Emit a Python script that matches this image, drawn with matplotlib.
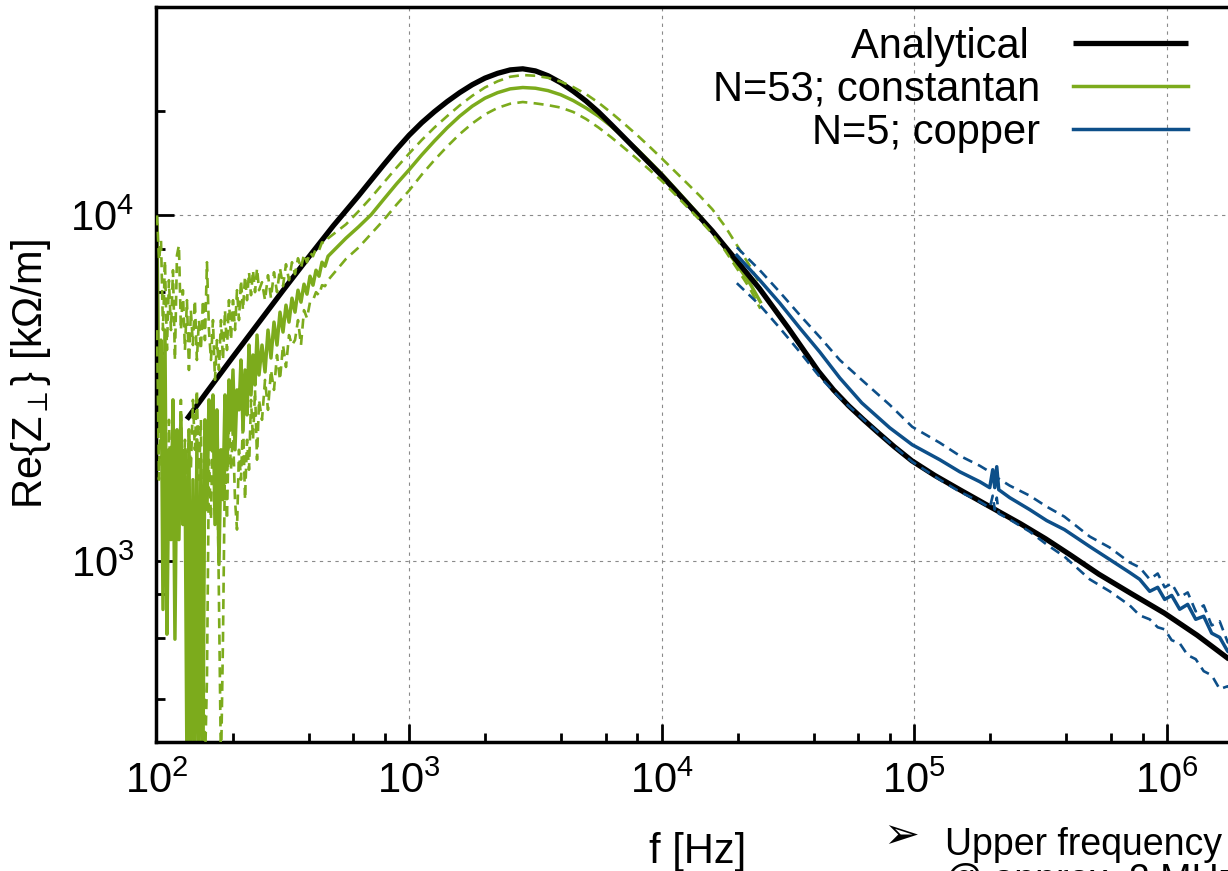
import matplotlib
matplotlib.use("Agg")
import matplotlib.pyplot as plt
from matplotlib.ticker import LogLocator, LogFormatterSciNotation, NullFormatter

plt.rcParams["font.family"] = ["Liberation Sans", "DejaVu Sans"]
plt.rcParams["mathtext.fontset"] = "custom"
plt.rcParams["mathtext.rm"] = "Liberation Sans"
plt.rcParams["mathtext.it"] = "Liberation Sans:italic"
plt.rcParams["mathtext.bf"] = "Liberation Sans:bold"
plt.rcParams["mathtext.fallback"] = "stixsans"

# ---- analytical transverse impedance, Re{Z_perp} in kOhm/m vs f in Hz ----
f_analytical = [131.8, 158.5, 199.5, 251.2, 316.2, 398.1, 501.2, 631.0, 707.9,
                794.3, 891.3, 1000, 1122, 1259, 1413, 1585, 1778, 1995, 2239,
                2512, 2818, 3162, 3548, 3981, 4467, 5012, 5623, 6310, 7079,
                7943, 8913, 10000, 11220, 12590, 14130, 15850, 19950, 24380,
                31620, 36310, 41690, 47860, 54950, 63100, 72440, 83180, 97720,
                120200, 151400, 199500, 263000, 331100, 416900, 537000, 724400,
                977200, 1318000, 1738000, 2000000]
z_analytical = [2570, 3090, 3873, 4842, 6053, 7534, 9333, 11400, 12650, 14030,
                15520, 17060, 18540, 19950, 21330, 22650, 23880, 24950, 25760,
                26360, 26550, 26180, 25350, 24210, 22860, 21430, 19910, 18320,
                16830, 15450, 14190, 13030, 11890, 10840, 9886, 9016, 7345,
                6138, 4732, 4093, 3540, 3126, 2812, 2559, 2339, 2143, 1950,
                1770, 1607, 1435, 1282, 1159, 1038, 916.2, 803.5, 706.3, 609.5,
                523.6, 485.3]

# ---- N=53 constantan wires: mean and +/- band ----
f_constantan = [100.5, 102.3, 104.2, 106.1, 108.0, 110.0, 112.0, 114.1, 116.2,
                118.3, 120.5, 122.7, 124.9, 127.2, 129.6, 132.0, 134.4, 136.8,
                139.4, 141.9, 144.5, 147.2, 149.9, 152.7, 155.5, 158.4, 161.3,
                164.3, 167.3, 170.4, 173.5, 176.7, 180.0, 183.3, 186.7, 190.1,
                193.6, 197.2, 200.8, 204.5, 208.3, 212.1, 216.0, 220.0, 224.1,
                228.2, 232.4, 236.7, 241.0, 245.5, 250.0, 254.6,
                261.6, 268.9, 276.3, 283.9, 291.8, 299.9, 308.2, 316.8, 325.5,
                334.6, 343.8, 353.4, 363.2, 373.2, 383.6, 394.2, 405.2, 416.4,
                428.0, 439.9, 452.0, 464.5, 477.5,
                562.3, 631.0, 707.9, 794.3, 891.3, 1000, 1122, 1259, 1413, 1585,
                1778, 1995, 2239, 2512, 2818, 3162, 3548, 3981, 4467, 5012,
                5623, 6310, 7079, 7943, 8913, 10000, 11220, 12590, 14130, 15850,
                17780, 19950, 22390, 24550]
z_constantan_mean = [9357, 2396, 4356, 724, 4657, 614, 2098, 1153, 2925, 594,
                     2396, 1153, 2647, 1275, 2098, 250, 2396, 219, 1719, 250,
                     2242, 219, 1963, 250, 2561, 1408, 2925, 2098, 3023, 1275,
                     2737, 977, 2098, 1505, 3023, 1837, 3341, 2396, 3570, 2098,
                     3126, 2737, 3815, 2396, 3570, 2647, 4215, 3023, 3945, 3232,
                     4505, 3453,
                     4215, 3524, 4657, 3867, 4911, 4215, 5248, 4596, 5499, 4911,
                     5760, 5248, 6075, 5609, 6323, 5916, 6668, 6281, 6939, 6668,
                     7318, 7125, 7615,
                     8590, 9268, 10050, 11140, 12330, 13550, 14960, 16410, 17910,
                     19360, 20700, 21830, 22650, 23230, 23440, 23330, 22960,
                     22340, 21480, 20460, 19360, 18110, 16830, 15600, 14350,
                     13180, 12020, 10960, 9977, 9016, 8054, 7178, 6339, 5623]
z_constantan_upper = [10000, 7417, 8469, 4657, 7417, 4078, 6493, 4657, 6939, 3815,
                      7666, 8193, 4657, 6075, 4078, 5684, 3570, 5318, 4215, 5684,
                      3815, 4977, 4078, 5684, 4356, 7318, 4657, 3815, 4977, 3341,
                      4356, 3570, 4977, 3815, 5318, 4078, 5684, 4356, 5684, 4657,
                      6075, 4977, 6493, 5318, 6668, 5684, 6847, 5876, 6939, 5995,
                      7031, 6075,
                      6407, 5684, 6713, 5760, 6847, 5995, 7031, 6239, 7221, 6493,
                      7318, 6758, 7515, 7031, 7717, 7318, 7821, 7615, 8030, 7925,
                      8357, 8301, 8581,
                      9419, 10280, 11270, 12450, 13740, 15100, 16520, 17950, 19360,
                      20800, 22180, 23440, 24430, 25180, 25470, 25350, 25000,
                      24380, 23500, 22440, 21180, 19820, 18450, 17140, 15850,
                      14620, 13460, 12390, 11400, 10420, 9311, 8147, 7112, 6310]
z_constantan_lower = [4657, 1719, 3341, 1318, 2925, 1010, 2561, 1505, 2925, 1233,
                      2396, 1719, 2925, 1318, 2242, 1505, 2396, 1837, 2925, 2098,
                      3126, 1719, 2561, 678, 250, 455, 1963, 1318, 2561, 1719,
                      2242, 774, 250, 594, 1963, 1318, 2561, 1837, 2396, 1505,
                      1233, 2098, 1719, 2561, 1505, 2242, 1837, 2925, 2242, 3126,
                      1963, 2925,
                      2561, 3341, 2737, 3570, 3126, 3945, 3341, 4215, 3642, 4505,
                      4215, 4356, 4977, 4215, 5318, 5044, 5609, 5684, 5995, 5876,
                      6281, 6239, 6493,
                      7482, 8072, 8851, 9705, 10740, 11800, 13120, 14450, 15810,
                      17180, 18450, 19590, 20460, 21040, 21280, 21090, 20840,
                      20510, 19910, 19010, 17950, 16830, 15700, 14620, 13580,
                      12590, 11560, 10590, 9705, 8851, 7925, 6982, 6124, 5370]

# ---- N=5 copper wires: mean and +/- band ----
f_copper = [19830, 24450, 29340, 35210, 42230, 50680, 61930, 79920, 98100,
            126100, 151200, 181500, 198800, 204300, 208100, 211900, 215800,
            238500, 286200, 334100, 392400, 494500, 593300, 711900, 779800,
            854300, 918900, 979300, 1043700, 1122800, 1207800, 1299200,
            1397500, 1503000, 1616800, 1739000, 2000000]
z_copper_mean = [7666, 6493, 5572, 4720, 4024, 3385, 2867, 2428, 2169, 1963,
                 1812, 1696, 1630, 1837, 1630, 1874, 1608, 1525, 1408, 1309,
                 1233, 1101, 1010, 926, 885, 817, 839, 774, 795, 725, 749, 678,
                 692, 618, 601, 548, 513]
z_copper_upper = [8084, 6939, 5995, 5146, 4445, 3815, 3341, 2829, 2444, 2198,
                  2016, 1886, 1812, 1788, 1765, 1742, 1730, 1652, 1545, 1436,
                  1344, 1177, 1094, 990, 958, 885, 920, 839, 861, 785, 811, 715,
                  744, 651, 669, 582, 548]
z_copper_lower = [6366, 5499, 4720, 4024, 3408, 2964, 2595, 2198, 1937, 1719,
                  1587, 1485, 1427, 1545, 1408, 1525, 1371, 1318, 1216, 1116,
                  1030, 885, 817, 744, 696, 678, 643, 634, 590, 578, 534, 520,
                  480, 467, 426, 434, 398]

labels = ["Analytical ", "N=53; constantan", "N=5; copper"]
green = "#7cab1c"
blue = "#0d4f89"

fig = plt.figure(figsize=(12.28, 8.71), dpi=100)
ax = fig.add_axes([0.12744, 0.14845, 0.8848, 0.84317])

dash = (3.8, 2.4)
l_green, = ax.plot(f_constantan, z_constantan_mean, color=green, lw=2.5, zorder=2)
l_black, = ax.plot(f_analytical, z_analytical, color="black", lw=3.8, zorder=3,
                   solid_capstyle="butt", solid_joinstyle="round")
ax.plot(f_constantan, z_constantan_upper, color=green, lw=1.9, dashes=dash, zorder=4)
ax.plot(f_constantan, z_constantan_lower, color=green, lw=1.9, dashes=dash, zorder=4)
l_blue, = ax.plot(f_copper, z_copper_mean, color=blue, lw=2.5, zorder=5)
ax.plot(f_copper, z_copper_upper, color=blue, lw=1.9, dashes=dash, zorder=5)
ax.plot(f_copper, z_copper_lower, color=blue, lw=1.9, dashes=dash, zorder=5)

ax.set_xscale("log")
ax.set_yscale("log")
ax.set_xlim(100, 2e6)
ax.set_ylim(300, 4e4)

for axis in (ax.xaxis, ax.yaxis):
    axis.set_major_locator(LogLocator(base=10, numticks=20))
    axis.set_minor_locator(LogLocator(base=10, subs=(2, 4, 6, 8), numticks=50))
    axis.set_major_formatter(LogFormatterSciNotation())
    axis.set_minor_formatter(NullFormatter())

ax.tick_params(which="both", direction="in", top=False, right=False,
               width=2.0, labelsize=30, color="black")
ax.tick_params(which="major", length=13)
ax.tick_params(which="minor", length=6.5)
ax.tick_params(axis="x", pad=14)
ax.tick_params(axis="y", pad=16)

for sp in ax.spines.values():
    sp.set_linewidth(2.5)

ax.grid(True, which="major", color="#8a8a8a", lw=0.8, dashes=(3, 4))
ax.set_axisbelow(True)

leg = ax.legend(handles=[l_black, l_green, l_blue], labels=labels,
                loc="upper right", bbox_to_anchor=(1188 / 1228, 1 - 27 / 871),
                bbox_transform=fig.transFigure, frameon=False, fontsize=30,
                handlelength=2.76, handletextpad=0.79, labelspacing=0.07,
                borderpad=0, borderaxespad=0, markerfirst=False)

fig.text(31 / 1228, (871 - 374.5) / 871, "Re{Z$_{\\perp}$} [k\u03a9/m]",
         rotation=90, ha="center", va="center", fontsize=30)
fig.text(698 / 1228, (871 - 863) / 871, "f [Hz]", ha="center", va="baseline",
         fontsize=30)

fig.text(883 / 1228, (871 - 848) / 871, "\u27a2", ha="left", va="baseline",
         fontsize=31, family=["DejaVu Sans"])
fig.text(945 / 1228, (871 - 855) / 871, "Upper frequency", ha="left",
         va="baseline", fontsize=27)
fig.text(945 / 1228, (871 - 891) / 871, "@ approx. 2 MHz", ha="left",
         va="baseline", fontsize=27)

fig.savefig("out.png", dpi=100)
